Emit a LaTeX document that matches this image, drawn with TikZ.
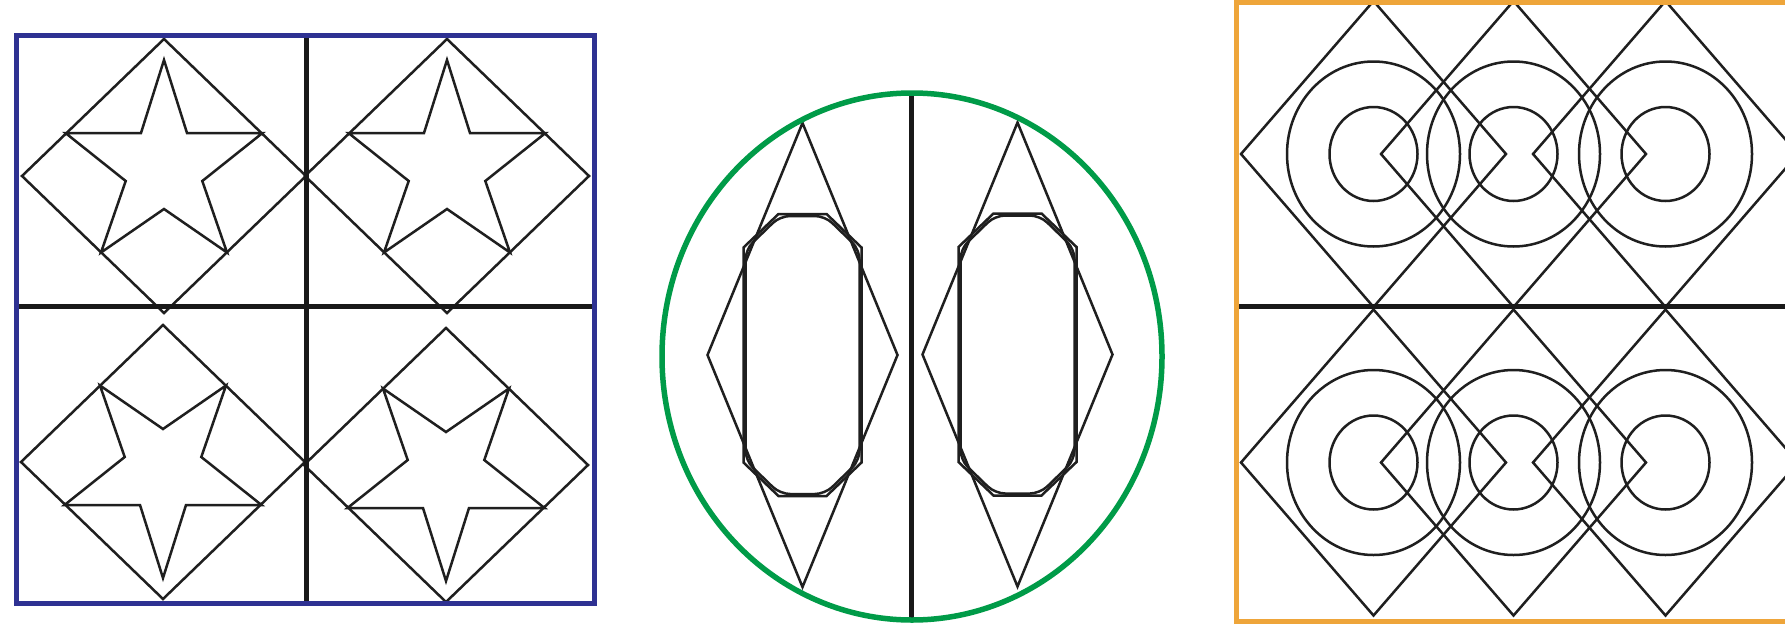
\documentclass[tikz,border=0pt]{standalone}
\definecolor{bluef}{RGB}{46,49,146}
\definecolor{greenf}{RGB}{0,155,72}
\definecolor{orangef}{RGB}{238,165,58}
\tikzset{
  fig/.style={line width=2.5pt, line join=miter, draw=black!88},
  divider/.style={line width=5pt, draw=black!90},
  frameblue/.style={draw=bluef, line width=5pt},
  framegreen/.style={draw=greenf, line width=5.5pt},
  frameorange/.style={draw=orangef, line width=5pt},
  pics/starshape/.style={code={
    \draw[fig] (0,-116) -- (23,-43) -- (98.5,-43) -- (38.3,5) -- (63,76.5) -- (0,33)
      -- (-63,76.5) -- (-38.3,5) -- (-98.5,-43) -- (-23,-43) -- cycle;}},
  pics/sqdiamond/.style={code={
    \draw[fig] (0,-137) -- (142,0) -- (0,137) -- (-142,0) -- cycle;}},
  pics/rhombus/.style={code={
    \draw[fig] (0,-232) -- (95,0) -- (0,232) -- (-95,0) -- cycle;
    \draw[fig] (-24,-141) -- (24,-141) -- (59,-107.5) -- (59,107.5) -- (24,141)
      -- (-24,141) -- (-59,107.5) -- (-59,-107.5) -- cycle;
    \draw[fig, rounded corners=10pt] (0,-139) -- (22.5,-139) -- (57,-105.5) -- (57,105.5)
      -- (22.5,139) -- (-22.5,139) -- (-57,105.5) -- (-57,-105.5) -- (-22.5,-139) -- cycle;}},
  pics/ringdiamond/.style={code={
    \draw[fig] (0,-153) -- (132.5,0) -- (0,153) -- (-132.5,0) -- cycle;
    \draw[fig] (0,0) ellipse [x radius=44, y radius=47];
    \draw[fig] (0,0) ellipse [x radius=86.5, y radius=92.5];}},
}
\begin{document}
\begin{tikzpicture}[x=1pt,y=-1pt]
\useasboundingbox (0,0) rectangle (1785,632);
\fill[white] (0,0) rectangle (1785,632);
\clip (0,0) rectangle (1785,632);

% ---------- left panel: four diamonds with stars ----------
\pic at (164,176) {sqdiamond};
\pic at (447,176) {sqdiamond};
\pic at (163,462) {sqdiamond};
\pic at (446,465) {sqdiamond};
\pic at (164,176) {starshape};
\pic at (447,176) {starshape};
\pic[yscale=-1] at (163,462) {starshape};
\pic[yscale=-1] at (446,465) {starshape};
\coordinate (lt) at (306,35);
\coordinate (lb) at (306,603);
\coordinate (ll) at (16,306);
\coordinate (lr) at (594,306);
\draw[divider] (lt) -- (lb);
\draw[divider] (ll) -- (lr);
\draw[frameblue] (16,35) rectangle (594,603);

% ---------- middle panel: ellipse with two lozenges ----------
\pic at (802.5,355) {rhombus};
\pic at (1017.5,354.5) {rhombus};
\coordinate (mt) at (911.5,95);
\coordinate (mb) at (911.5,618);
\draw[divider] (mt) -- (mb);
\draw[framegreen] (912,356.5) ellipse [x radius=250, y radius=263.5];

% ---------- right panel: diamonds with rings ----------
\foreach \cx in {1373.5,1513.5,1665.5}{
  \pic at (\cx,154) {ringdiamond};
  \pic at (\cx,462.5) {ringdiamond};
}
\coordinate (rl) at (1238,306.5);
\coordinate (rr) at (1790,306.5);
\draw[divider] (rl) -- (rr);
\draw[frameorange] (1236,2.5) rectangle (1800,621.5);
\end{tikzpicture}
\end{document}
